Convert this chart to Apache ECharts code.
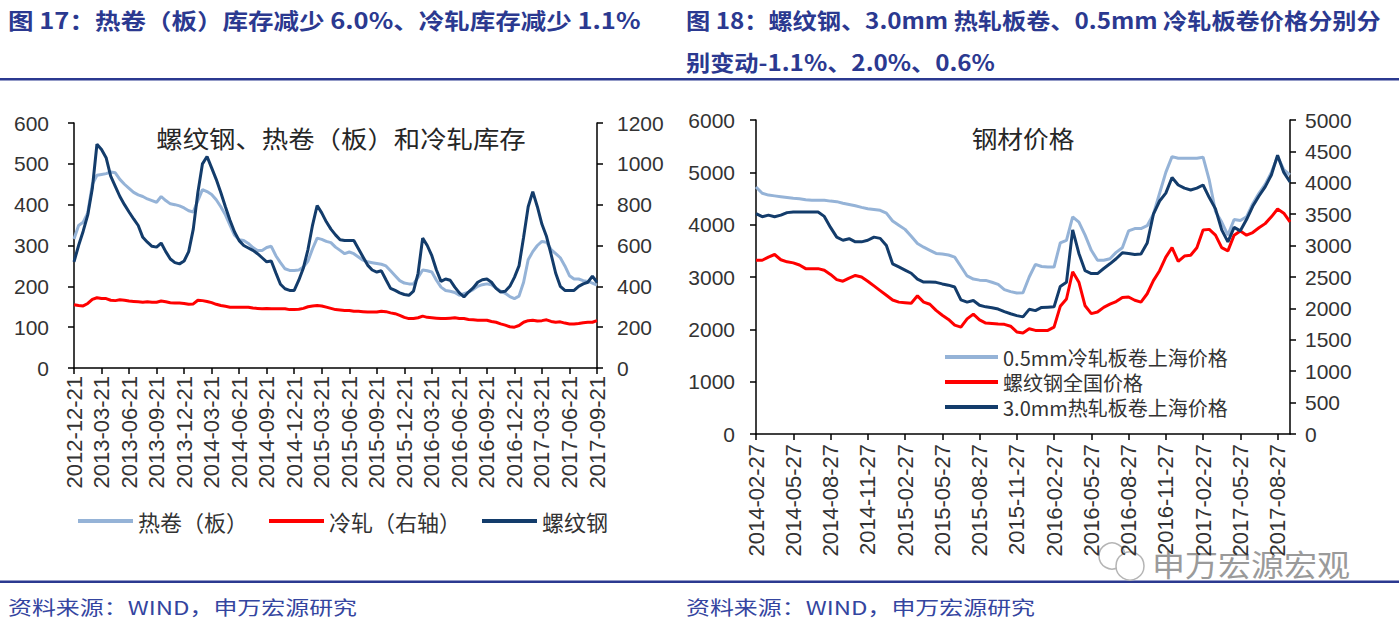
<!DOCTYPE html>
<html><head><meta charset="utf-8">
<script src="https://cdn.jsdelivr.net/npm/echarts@6/dist/echarts.min.js"></script>
<style>html,body{margin:0;padding:0;background:#fff}#c{width:1399px;height:623px}</style>
</head><body><div id="c"></div>
<script>
// ---------- DATA ----------
// Figure 17: weekly inventory (sampled half-monthly), start 2012-12-21
const invStart = [2012, 12, 21, 6];
const hotCoilInv = [316,349,357,380,450,472,474,476,480,478,
 462,450,440,430,424,420,414,410,406,420,
 410,402,400,397,392,385,382,410,437,432,
 425,412,395,375,350,325,314,312,305,295,
 288,288,295,298,275,258,243,239,239,240,
 247,262,292,318,315,310,307,296,288,280,
 284,280,272,264,260,258,256,254,250,238,
 226,214,208,206,206,222,240,238,235,215,
 198,190,188,185,178,182,186,192,200,204,
 206,204,196,188,183,175,170,176,210,265,
 285,300,310,308,290,280,270,250,226,218,
 218,214,212,208,203];
const coldRollInv = [310,306,304,316,336,344,340,340,332,330,
 334,332,328,326,324,322,324,322,322,328,
 324,320,318,318,316,312,314,332,330,326,
 320,312,306,302,298,298,298,298,298,294,
 292,290,292,290,290,290,290,286,286,288,
 292,300,304,306,304,298,292,286,284,282,
 282,278,278,276,274,274,274,278,276,270,
 266,258,248,242,242,246,254,248,246,244,
 242,242,244,246,242,242,238,236,234,234,
 234,228,224,216,210,202,200,208,224,232,
 234,230,232,236,228,224,226,220,216,216,
 218,222,224,224,232];
const rebarInv = [260,300,335,375,440,548,535,515,470,445,
 420,400,382,365,349,320,308,298,296,306,
 285,267,258,255,262,285,340,430,500,518,
 490,462,430,395,362,333,312,300,294,288,
 280,270,260,262,233,205,194,190,190,215,
 245,290,350,398,380,358,340,326,314,312,
 312,312,292,272,252,240,235,238,216,195,
 190,184,180,178,188,232,318,300,275,240,
 212,218,215,198,184,174,186,196,210,216,
 218,210,195,186,188,200,222,250,320,395,
 432,395,352,322,278,232,200,190,190,190,
 200,206,210,225,210];
const invNames = ['热卷（板）','冷轧（右轴）','螺纹钢'];

// Figure 18: steel prices (sampled half-monthly), start 2014-02-27
const priceStart = [2014, 2, 27, 12];
const coldPrice = [4720,4600,4565,4550,4535,4520,4505,4495,4475,4465,
 4465,4465,4450,4440,4410,4385,4360,4330,4305,4290,
 4275,4220,4070,3990,3910,3780,3640,3570,3510,3450,
 3440,3420,3380,3200,3020,2960,2940,2935,2900,2860,
 2760,2720,2695,2700,3000,3240,3200,3190,3190,3650,
 3700,4150,4050,3800,3510,3320,3320,3350,3470,3560,
 3880,3925,3925,3980,4200,4600,5000,5300,5270,5270,
 5270,5270,5290,4850,4250,4050,3800,4100,4080,4150,
 4400,4600,4770,5000,5300,5050,4950];
const rebarPrice = [3320,3320,3380,3430,3330,3290,3270,3230,3160,3160,
 3160,3130,3050,2950,2920,2980,3030,3000,2920,2830,
 2740,2650,2560,2520,2510,2500,2640,2520,2480,2362,
 2270,2190,2080,2043,2200,2290,2180,2120,2110,2100,
 2095,2060,1950,1930,2011,1980,1979,1980,2043,2440,
 2580,3100,2900,2450,2300,2330,2420,2480,2530,2610,
 2617,2555,2520,2680,2930,3120,3380,3560,3300,3400,
 3415,3560,3900,3910,3800,3560,3500,3800,3880,3800,
 3850,3940,4020,4150,4300,4220,4053];
const hotPrice = [3510,3460,3485,3460,3485,3525,3535,3535,3535,3535,
 3535,3465,3290,3135,3085,3110,3060,3060,3085,3135,
 3115,3000,2710,2660,2610,2560,2465,2420,2420,2415,
 2390,2370,2340,2135,2100,2125,2050,2025,2010,1990,
 1950,1915,1885,1865,1985,1965,2015,2020,2025,2350,
 2415,3250,2875,2600,2555,2555,2635,2710,2790,2885,
 2875,2860,2865,3040,3500,3710,3835,4085,3965,3915,
 3885,3915,3965,3765,3585,3250,3060,3290,3235,3415,
 3625,3790,3935,4125,4440,4165,4015];
const priceNames = ['0.5mm冷轧板卷上海价格','螺纹钢全国价格','3.0mm热轧板卷上海价格'];

const titles = {
  left: '图 17：热卷（板）库存减少 6.0%、冷轧库存减少 1.1%',
  right1: '图 18：螺纹钢、3.0mm 热轧板卷、0.5mm 冷轧板卷价格分别分',
  right2: '别变动-1.1%、2.0%、0.6%',
  chartL: '螺纹钢、热卷（板）和冷轧库存',
  chartR: '钢材价格',
  source: '资料来源：WIND，申万宏源研究',
  mark: '申万宏源宏观'
};

// ---------- helpers ----------
function makeDates(start, n) {
  let [y, m, d1, d2] = start; const out = [];
  const p = v => (v < 10 ? '0' : '') + v;
  for (let i = 0; i < n; i++) {
    if (i % 2 === 0) out.push(y + '-' + p(m) + '-' + p(d1));
    else { m++; if (m > 12) { m = 1; y++; } out.push(y + '-' + p(m) + '-' + p(d2)); }
  }
  return out;
}
const invDates = makeDates(invStart, rebarInv.length);
const priceDates = makeDates(priceStart, rebarPrice.length);

const C_LIGHT = '#95B3D7', C_RED = '#FF0000', C_NAVY = '#133C6B';
const BLUE_T = '#2B3990';
const AX = { color: '#000', width: 1.5 };
const numFont = 'Liberation Sans';
const cjk = '"Noto Sans CJK SC"';

function txt(x, y, text, font, fill, sx, align) {
  return { type: 'text', x: x, y: y, scaleX: sx, silent: true,
    style: { text: text, font: font, fill: fill, textAlign: align || 'left', textVerticalAlign: 'middle' } };
}
function xAx(grid, data, margin) {
  return { type: 'category', gridIndex: grid, data: data, boundaryGap: false,
    axisLine: { lineStyle: AX }, axisTick: { interval: 5, length: 6, lineStyle: AX },
    axisLabel: { interval: 5, rotate: 90, fontSize: 22, color: '#333', fontFamily: numFont, margin: margin },
    splitLine: { show: false } };
}
function yAx(grid, pos, max, step, margin) {
  return { type: 'value', gridIndex: grid, position: pos, min: 0, max: max, interval: step,
    axisLine: { show: true, lineStyle: AX }, axisTick: { show: true, length: 6, lineStyle: AX },
    axisLabel: { fontSize: 21, color: '#333', fontFamily: numFont, margin: margin, formatter: v => String(v) },
    splitLine: { show: false } };
}
function ln(name, data, color, xi, yi, z) {
  return { type: 'line', name: name, data: data, xAxisIndex: xi, yAxisIndex: yi,
    showSymbol: false, symbol: 'none', smooth: false, z: z,
    lineStyle: { color: color, width: 3 }, itemStyle: { color: color }, emphasis: { disabled: true } };
}

const chart = echarts.init(document.getElementById('c'), null, { renderer: 'svg' });
chart.setOption({
  animation: false,
  backgroundColor: '#fff',
  grid: [
    { left: 74, right: 802, top: 123, bottom: 255, outerBoundsMode: 'none' },
    { left: 756, right: 109, top: 120, bottom: 189, outerBoundsMode: 'none' }
  ],
  xAxis: [xAx(0, invDates, 8), xAx(1, priceDates, 10)],
  yAxis: [
    yAx(0, 'left', 600, 100, 25), yAx(0, 'right', 1200, 200, 20),
    yAx(1, 'left', 6000, 1000, 21), yAx(1, 'right', 5000, 500, 15)
  ],
  legend: [
    { data: invNames, left: 73, top: 505, orient: 'horizontal', icon: 'rect', itemWidth: 55, itemHeight: 4,
      itemGap: 21, textStyle: { fontSize: 22, color: '#333', fontFamily: cjk }, selectedMode: false },
    { data: priceNames, left: 940, top: 342, orient: 'vertical', icon: 'rect', itemWidth: 53, itemHeight: 4,
      itemGap: 5, textStyle: { fontSize: 20, color: '#333', fontFamily: cjk, lineHeight: 20 }, selectedMode: false }
  ],
  series: [
    ln(invNames[0], hotCoilInv, C_LIGHT, 0, 0, 2),
    ln(invNames[1], coldRollInv, C_RED, 0, 1, 3),
    ln(invNames[2], rebarInv, C_NAVY, 0, 0, 4),
    ln(priceNames[0], coldPrice, C_LIGHT, 1, 2, 2),
    ln(priceNames[1], rebarPrice, C_RED, 1, 2, 3),
    ln(priceNames[2], hotPrice, C_NAVY, 1, 3, 4)
  ],
  graphic: [
    txt(8, 19, titles.left, 'bold 22px ' + cjk, BLUE_T, 1.16),
    txt(686, 19, titles.right1, 'bold 22px ' + cjk, BLUE_T, 1.1),
    txt(686, 61, titles.right2, 'bold 22px ' + cjk, BLUE_T, 1.1),
    { type: 'rect', silent: true, shape: { x: 0, y: 78, width: 1399, height: 2.5 }, style: { fill: BLUE_T } },
    { type: 'rect', silent: true, shape: { x: 0, y: 580.5, width: 1399, height: 2.5 }, style: { fill: BLUE_T } },
    txt(341, 138, titles.chartL, '24px ' + cjk, '#262626', 1.1, 'center'),
    txt(1023, 137, titles.chartR, '24px ' + cjk, '#262626', 1.07, 'center'),
    txt(8, 607, titles.source, '19px ' + cjk, '#3445A0', 1.26),
    txt(686, 607, titles.source, '19px ' + cjk, '#3445A0', 1.26),
    { type: 'circle', silent: true, shape: { cx: 1112, cy: 556, r: 13 }, style: { fill: 'none', stroke: '#b5b5b5', lineWidth: 1.5 } },
    { type: 'circle', silent: true, shape: { cx: 1130, cy: 566, r: 14 }, style: { fill: '#fff', stroke: '#b5b5b5', lineWidth: 1.5 } },
    txt(1152, 563, titles.mark, '30px ' + cjk, '#9a9a9a', 1.1)
  ]
});
</script></body></html>
